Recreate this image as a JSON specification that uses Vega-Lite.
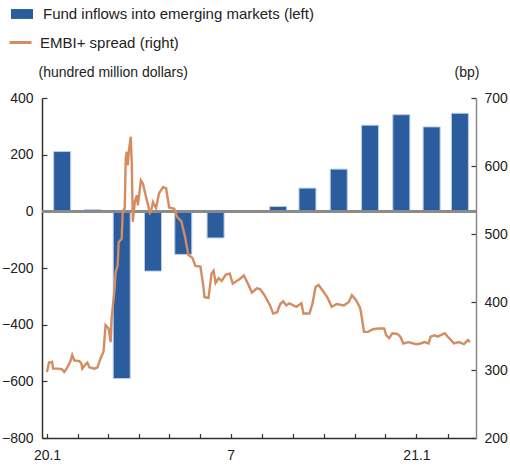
{
  "$schema": "https://vega.github.io/schema/vega-lite/v6.json",
  "width": 434,
  "height": 340,
  "autosize": {"type": "none"},
  "padding": {"left": 42, "top": 98, "right": 34, "bottom": 29},
  "background": "white",
  "config": {
    "view": {"stroke": null},
    "font": "Liberation Sans",
    "axis": {"grid": false, "labelColor": "#222", "titleColor": "#222", "labelFontWeight": "normal", "titleFontWeight": "normal"}
  },
  "datasets": {
    "flows": [
      {"month": "2020-01-16", "inflow": 211},
      {"month": "2020-02-15", "inflow": 6},
      {"month": "2020-03-15", "inflow": -590},
      {"month": "2020-04-15", "inflow": -211},
      {"month": "2020-05-15", "inflow": -152},
      {"month": "2020-06-16", "inflow": -94},
      {"month": "2020-07-16", "inflow": -4},
      {"month": "2020-08-17", "inflow": 17},
      {"month": "2020-09-15", "inflow": 82},
      {"month": "2020-10-16", "inflow": 149},
      {"month": "2020-11-16", "inflow": 304},
      {"month": "2020-12-17", "inflow": 341},
      {"month": "2021-01-16", "inflow": 298},
      {"month": "2021-02-13", "inflow": 346}
    ],
    "embi": [
      {"date":"2020-01-01","spread":297},
      {"date":"2020-01-03","spread":311},
      {"date":"2020-01-06","spread":312},
      {"date":"2020-01-07","spread":302},
      {"date":"2020-01-12","spread":302},
      {"date":"2020-01-16","spread":301},
      {"date":"2020-01-18","spread":297},
      {"date":"2020-01-20","spread":301},
      {"date":"2020-01-24","spread":312},
      {"date":"2020-01-26","spread":322},
      {"date":"2020-01-28","spread":314},
      {"date":"2020-02-02","spread":313},
      {"date":"2020-02-04","spread":310},
      {"date":"2020-02-05","spread":302},
      {"date":"2020-02-08","spread":308},
      {"date":"2020-02-10","spread":311},
      {"date":"2020-02-12","spread":304},
      {"date":"2020-02-17","spread":302},
      {"date":"2020-02-20","spread":304},
      {"date":"2020-02-23","spread":317},
      {"date":"2020-02-26","spread":327},
      {"date":"2020-02-28","spread":366},
      {"date":"2020-03-02","spread":361},
      {"date":"2020-03-04","spread":341},
      {"date":"2020-03-05","spread":376},
      {"date":"2020-03-08","spread":420},
      {"date":"2020-03-09","spread":444},
      {"date":"2020-03-11","spread":454},
      {"date":"2020-03-12","spread":488},
      {"date":"2020-03-15","spread":493},
      {"date":"2020-03-16","spread":533},
      {"date":"2020-03-18","spread":538},
      {"date":"2020-03-19","spread":611},
      {"date":"2020-03-20","spread":621},
      {"date":"2020-03-21","spread":601},
      {"date":"2020-03-22","spread":621},
      {"date":"2020-03-24","spread":643},
      {"date":"2020-03-25","spread":601},
      {"date":"2020-03-26","spread":518},
      {"date":"2020-03-28","spread":547},
      {"date":"2020-03-30","spread":557},
      {"date":"2020-03-31","spread":542},
      {"date":"2020-04-03","spread":579},
      {"date":"2020-04-05","spread":574},
      {"date":"2020-04-08","spread":555},
      {"date":"2020-04-12","spread":531},
      {"date":"2020-04-13","spread":533},
      {"date":"2020-04-15","spread":547},
      {"date":"2020-04-18","spread":538},
      {"date":"2020-04-21","spread":560},
      {"date":"2020-04-25","spread":569},
      {"date":"2020-04-28","spread":567},
      {"date":"2020-05-01","spread":539},
      {"date":"2020-05-06","spread":537},
      {"date":"2020-05-09","spread":525},
      {"date":"2020-05-13","spread":519},
      {"date":"2020-05-17","spread":494},
      {"date":"2020-05-20","spread":469},
      {"date":"2020-05-24","spread":465},
      {"date":"2020-05-27","spread":453},
      {"date":"2020-06-01","spread":452},
      {"date":"2020-06-04","spread":422},
      {"date":"2020-06-05","spread":407},
      {"date":"2020-06-09","spread":406},
      {"date":"2020-06-12","spread":442},
      {"date":"2020-06-14","spread":446},
      {"date":"2020-06-16","spread":428},
      {"date":"2020-06-19","spread":435},
      {"date":"2020-06-22","spread":431},
      {"date":"2020-06-26","spread":440},
      {"date":"2020-06-30","spread":442},
      {"date":"2020-07-03","spread":427},
      {"date":"2020-07-08","spread":432},
      {"date":"2020-07-11","spread":435},
      {"date":"2020-07-14","spread":439},
      {"date":"2020-07-18","spread":427},
      {"date":"2020-07-22","spread":414},
      {"date":"2020-07-27","spread":420},
      {"date":"2020-07-30","spread":419},
      {"date":"2020-08-03","spread":411},
      {"date":"2020-08-06","spread":403},
      {"date":"2020-08-09","spread":395},
      {"date":"2020-08-12","spread":383},
      {"date":"2020-08-16","spread":385},
      {"date":"2020-08-19","spread":397},
      {"date":"2020-08-22","spread":401},
      {"date":"2020-08-25","spread":395},
      {"date":"2020-08-28","spread":398},
      {"date":"2020-09-01","spread":395},
      {"date":"2020-09-04","spread":393},
      {"date":"2020-09-09","spread":398},
      {"date":"2020-09-11","spread":383},
      {"date":"2020-09-17","spread":383},
      {"date":"2020-09-20","spread":398},
      {"date":"2020-09-23","spread":422},
      {"date":"2020-09-26","spread":425},
      {"date":"2020-09-30","spread":417},
      {"date":"2020-10-05","spread":406},
      {"date":"2020-10-09","spread":393},
      {"date":"2020-10-14","spread":397},
      {"date":"2020-10-21","spread":395},
      {"date":"2020-10-26","spread":400},
      {"date":"2020-10-29","spread":410},
      {"date":"2020-11-02","spread":403},
      {"date":"2020-11-06","spread":392},
      {"date":"2020-11-07","spread":385},
      {"date":"2020-11-10","spread":356},
      {"date":"2020-11-14","spread":356},
      {"date":"2020-11-19","spread":360},
      {"date":"2020-11-24","spread":361},
      {"date":"2020-11-30","spread":361},
      {"date":"2020-12-02","spread":351},
      {"date":"2020-12-05","spread":347},
      {"date":"2020-12-08","spread":354},
      {"date":"2020-12-13","spread":353},
      {"date":"2020-12-16","spread":349},
      {"date":"2020-12-19","spread":339},
      {"date":"2020-12-24","spread":341},
      {"date":"2020-12-29","spread":339},
      {"date":"2021-01-01","spread":338},
      {"date":"2021-01-05","spread":339},
      {"date":"2021-01-09","spread":341},
      {"date":"2021-01-13","spread":339},
      {"date":"2021-01-15","spread":349},
      {"date":"2021-01-19","spread":351},
      {"date":"2021-01-22","spread":349},
      {"date":"2021-01-29","spread":354},
      {"date":"2021-02-01","spread":349},
      {"date":"2021-02-06","spread":341},
      {"date":"2021-02-07","spread":339},
      {"date":"2021-02-12","spread":341},
      {"date":"2021-02-17","spread":338},
      {"date":"2021-02-21","spread":344},
      {"date":"2021-02-23","spread":341}
    ]
  },
  "layer": [
    {
      "data": {"name": "flows"},
      "layer": [
        {
          "mark": {"type": "bar", "size": 17, "stroke": "#b9cde8", "strokeWidth": 1},
          "encoding": {
            "x": {
              "field": "month", "type": "temporal",
              "scale": {"type": "utc", "domain": [{"year": 2020, "month": 1, "date": 1, "utc": true}, {"year": 2021, "month": 2, "date": 24, "utc": true}]},
              "axis": {
                "title": null,
                "tickCount": {"interval": "month", "step": 1},
                "labelExpr": "utcmonth(datum.value)==0 ? utcFormat(datum.value,'%y') + '.1' : (utcmonth(datum.value)==6 ? '7' : '')",
                "labelFlush": false,
                "labelOverlap": false,
                "labelFont": "Liberation Sans",
                "labelFontSize": 14,
                "labelPadding": 15,
                "tickSize": -4.5,
                "tickColor": "#333",
                "tickWidth": 1.2,
                "domainColor": "#333",
                "domainWidth": 1.5
              }
            },
            "y": {
              "field": "inflow", "type": "quantitative",
              "scale": {"domain": [-800, 400], "nice": false, "zero": false},
              "axis": {
                "values": [-800, -600, -400, -200, 0, 200, 400],
                "title": "(hundred million dollars)",
                "titleAngle": 0,
                "titleAlign": "left",
                "titleBaseline": "middle",
                "titleX": -4,
                "titleY": -26,
                "titleFont": "Liberation Sans",
                "titleFontSize": 14,
                "labelFont": "Liberation Sans",
                "labelFontSize": 14,
                "labelPadding": 14,
                "tickSize": -5,
                "tickColor": "#333",
                "tickWidth": 1.2,
                "domainColor": "#333",
                "domainWidth": 1.5
              }
            },
            "fill": {
              "datum": "Fund inflows into emerging markets (left)",
              "scale": {"range": ["#2a5c9e"]},
              "legend": {
                "orient": "none", "legendX": -31, "legendY": -95, "title": null, "padding": 0,
                "symbolType": "M-1,-0.45H1V0.45H-1Z", "symbolSize": 484, "symbolStrokeWidth": 0,
                "labelFont": "Liberation Sans", "labelFontSize": 15, "labelColor": "#222", "labelOffset": 10, "labelLimit": 0
              }
            }
          }
        },
        {
          "mark": {"type": "rule", "color": "#8a8a8a", "strokeWidth": 2},
          "encoding": {"y": {"datum": 0}}
        }
      ]
    },
    {
      "data": {"name": "embi"},
      "mark": {"type": "line", "strokeWidth": 2.4},
      "encoding": {
        "x": {"field": "date", "type": "temporal"},
        "y": {
          "field": "spread", "type": "quantitative",
          "scale": {"domain": [200, 700], "nice": false, "zero": false},
          "axis": {
            "orient": "right",
            "values": [200, 300, 400, 500, 600, 700],
            "title": "(bp)",
            "titleAngle": 0,
            "titleAlign": "right",
            "titleBaseline": "middle",
            "titleX": 3,
            "titleY": -26,
            "titleFont": "Liberation Sans",
            "titleFontSize": 14,
            "labelFont": "Liberation Sans",
            "labelFontSize": 14,
            "labelPadding": 13,
            "tickSize": -5,
            "tickColor": "#333",
            "tickWidth": 1.2,
            "domainColor": "#888",
            "domainWidth": 1.5
          }
        },
        "stroke": {
          "datum": "EMBI+ spread (right)",
          "scale": {"range": ["#d48c60"]},
          "legend": {
            "orient": "none", "legendX": -34, "legendY": -68, "title": null, "padding": 0,
            "symbolType": "stroke", "symbolSize": 484, "symbolStrokeWidth": 3,
            "labelFont": "Liberation Sans", "labelFontSize": 15, "labelColor": "#222", "labelOffset": 7, "labelLimit": 0
          }
        }
      }
    }
  ],
  "resolve": {"scale": {"y": "independent"}}
}
